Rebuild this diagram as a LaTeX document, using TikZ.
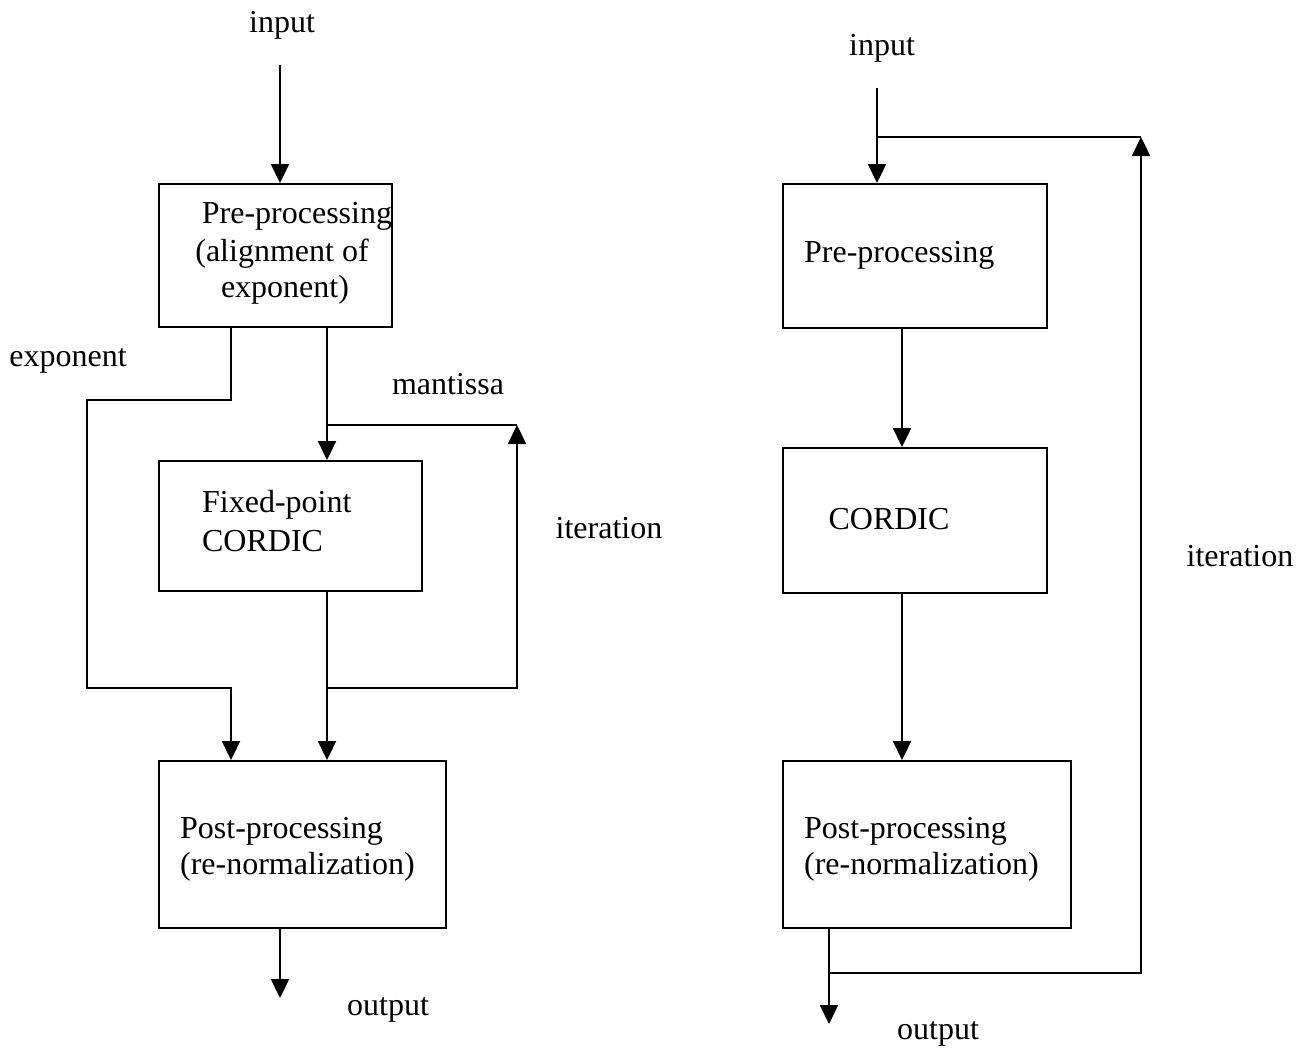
\documentclass[tikz,border=0pt]{standalone}
\usepackage{fontspec}
\setmainfont{Liberation Serif}
\usetikzlibrary{arrows.meta}
\begin{document}
\begin{tikzpicture}[x=1pt,y=-1pt,line width=2.3pt,
  font=\fontsize{32}{38}\selectfont,
  box/.style={draw,line width=2.3pt,anchor=north west,inner sep=0pt},
  txt/.style={inner sep=0pt},
  arr/.style={-{Triangle[length=19pt,width=18pt]}}]
\useasboundingbox (0,0) rectangle (1311,1049);

% ---------- left diagram ----------
\node[box,minimum width=233pt,minimum height=143pt] (pre1) at (158,183) {};
\node[box,minimum width=263pt,minimum height=130pt] (cor1) at (158,460) {};
\node[box,minimum width=287pt,minimum height=167pt] (post1) at (158,760) {};

\node[txt] (in1) at (282,25) {input};
\node[txt] (pre1a) at (297,216) {Pre-processing};
\node[txt] (pre1b) at (282,254) {(alignment of};
\node[txt] (pre1c) at (285,290) {exponent)};
\node[txt,anchor=west] (cor1a) at (201,505) {Fixed-point};
\node[txt,anchor=west] (cor1b) at (201,541) {CORDIC};
\node[txt,anchor=west] (post1a) at (179,831) {Post-processing};
\node[txt,anchor=west] (post1b) at (179,867) {(re-normalization)};
\node[txt] (exp) at (68,361) {exponent};
\node[txt] (man) at (448,384) {mantissa};
\node[txt] (it1) at (609,528) {iteration};
\node[txt] (out1) at (388,1010) {output};

\coordinate (in1s) at (280,65);
\coordinate (out1e) at (280,998);
\coordinate (expA) at (87,400);
\coordinate (expB) at (87,688);
\coordinate (loopL) at (327,688);
\coordinate (loopR) at (517,688);
\coordinate (loopT) at (517,425);
\coordinate (manJ) at (327,425);

\draw[arr] (in1s) -- (in1s |- pre1.north);
\draw[arr] ([xshift=73pt]pre1.south west) |- (expA) -- (expB)
  -| ([xshift=73pt]post1.north west);
\draw[arr] ([xshift=169pt]pre1.south west) -- ([xshift=169pt]cor1.north west);
\draw[arr] ([xshift=169pt]cor1.south west) -- ([xshift=169pt]post1.north west);
\draw[arr] (loopL) -- (loopR) -- (loopT);
\draw (manJ) -- (loopT);
\draw[arr] (out1e |- post1.south) -- (out1e);

% ---------- right diagram ----------
\node[box,minimum width=264pt,minimum height=144pt] (pre2) at (782,183) {};
\node[box,minimum width=264pt,minimum height=145pt] (cor2) at (782,447) {};
\node[box,minimum width=288pt,minimum height=167pt] (post2) at (782,760) {};

\node[txt] (in2) at (882,48) {input};
\node[txt,anchor=west] (pre2a) at (803,255) {Pre-processing};
\node[txt] (cor2a) at (889,519) {CORDIC};
\node[txt,anchor=west] (post2a) at (803,831) {Post-processing};
\node[txt,anchor=west] (post2b) at (803,867) {(re-normalization)};
\node[txt] (it2) at (1240,556) {iteration};
\node[txt] (out2) at (938,1034) {output};

\coordinate (in2s) at (877,88);
\coordinate (inJ) at (877,137);
\coordinate (fbT) at (1141,137);
\coordinate (outJ) at (829,973);
\coordinate (out2e) at (829,1024);

\draw[arr] (in2s) -- (in2s |- pre2.north);
\draw (inJ) -- (fbT);
\draw[arr] ([xshift=120pt]pre2.south west) -- ([xshift=120pt]cor2.north west);
\draw[arr] ([xshift=120pt]cor2.south west) -- ([xshift=120pt]post2.north west);
\draw[arr] (out2e |- post2.south) -- (out2e);
\draw[arr] (outJ) -| (fbT);
\end{tikzpicture}
\end{document}
